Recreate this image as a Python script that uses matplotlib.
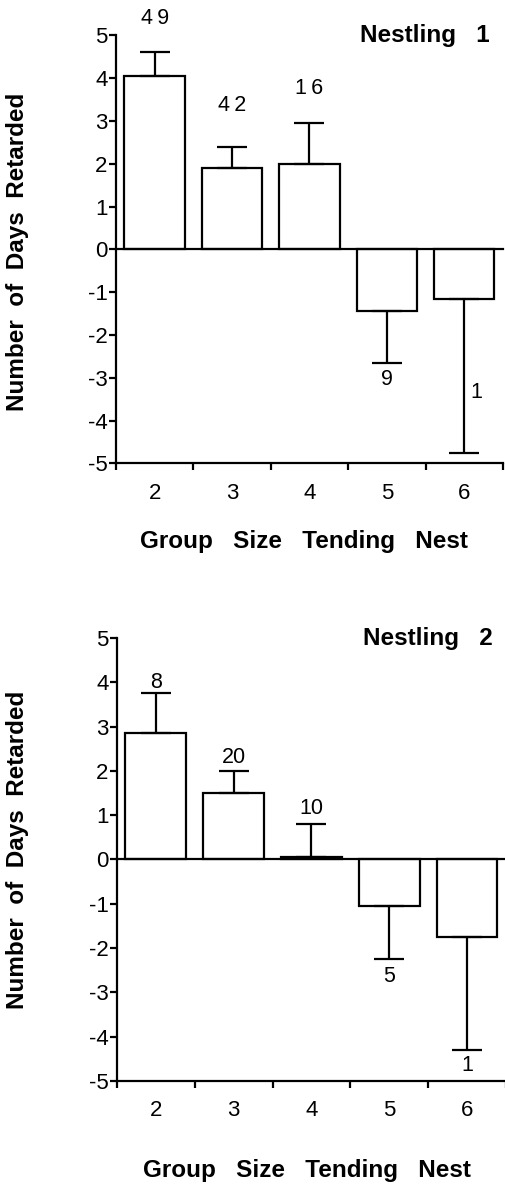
import matplotlib.pyplot as plt
import numpy as np

plt.rcParams['font.family'] = ['Liberation Sans', 'DejaVu Sans']
plt.rcParams['axes.unicode_minus'] = False

groups = [2, 3, 4, 5, 6]

# nestling 1
means1 = [4.05, 1.9, 2.0, -1.45, -1.15]
errs1 = [0.55, 0.5, 0.95, 1.2, 3.6]
n1 = ['4\u20099', '4\u20092', '1\u20096', '9', '1']
nlab_y1 = [5.4, 3.37, 3.75, -3.05, -3.35]
nlab_dx1 = [0, 0, 0, 0, 0.15]

# nestling 2
means2 = [2.85, 1.5, 0.05, -1.05, -1.75]
errs2 = [0.9, 0.5, 0.75, 1.2, 2.55]
n2 = ['8', '20', '10', '5', '1']
nlab_y2 = [4.0, 2.3, 1.15, -2.64, -4.65]
nlab_dx2 = [0, 0, 0, 0, 0]

lw = 1.6
fs_tick = 16
fs_n = 15.5
fs_lab = 17.5


def panel(ax, means, errs, ns, ylabs, dxs, title):
    x = np.array(groups)
    ax.bar(x, means, width=0.78, color='white', edgecolor='black', linewidth=lw, zorder=2)
    lo = [e if m < 0 else 0 for m, e in zip(means, errs)]
    hi = [e if m >= 0 else 0 for m, e in zip(means, errs)]
    ax.errorbar(x, means, yerr=[lo, hi], fmt='none', ecolor='black',
                elinewidth=lw, capsize=11, capthick=lw, zorder=3)
    ax.axhline(0, color='black', lw=lw, zorder=4, clip_on=False)
    for xi, s, yl, dx in zip(x, ns, ylabs, dxs):
        ax.text(xi + dx, yl, s, ha='center', va='center', fontsize=fs_n)
    ax.set_xlim(1.5, 6.5)
    ax.set_ylim(-5, 5)
    ax.set_yticks(np.arange(-5, 6, 1))
    ax.set_xticks(np.arange(1.5, 7, 1))
    ax.set_xticklabels([])
    ax.set_xticks(x, minor=True)
    ax.set_xticklabels([str(g) for g in groups], minor=True)
    ax.tick_params(axis='x', which='minor', length=0, pad=14, labelsize=fs_tick)
    ax.tick_params(axis='x', which='major', direction='out', length=5, width=lw)
    ax.tick_params(axis='y', direction='out', length=5, width=lw, labelsize=fs_tick, pad=1)
    for sp in ['top', 'right']:
        ax.spines[sp].set_visible(False)
    for sp in ['left', 'bottom']:
        ax.spines[sp].set_linewidth(lw)
    ax.text(0.965, 1.0, title, transform=ax.transAxes, ha='right', va='center',
            fontsize=fs_lab, fontweight='bold')


fig = plt.figure(figsize=(5.06, 11.85), dpi=100)
ax1 = fig.add_axes([0.229, 0.609, 0.765, 0.3612])
ax2 = fig.add_axes([0.231, 0.0878, 0.769, 0.3738])

panel(ax1, means1, errs1, n1, nlab_y1, nlab_dx1, 'Nestling   1')
panel(ax2, means2, errs2, n2, nlab_y2, nlab_dx2, 'Nestling   2')

fig.text(18 / 506, 1 - 252 / 1185, 'Number  of  Days  Retarded', rotation=90,
         ha='center', va='center', fontsize=fs_lab, fontweight='bold')
fig.text(304 / 506, 1 - 542 / 1185, 'Group   Size   Tending   Nest',
         ha='center', va='center', fontsize=fs_lab, fontweight='bold')
fig.text(18 / 506, 1 - 850 / 1185, 'Number  of  Days  Retarded', rotation=90,
         ha='center', va='center', fontsize=fs_lab, fontweight='bold')
fig.text(307 / 506, 1 - 1170 / 1185, 'Group   Size   Tending   Nest',
         ha='center', va='center', fontsize=fs_lab, fontweight='bold')

fig.savefig('out.png', dpi=100)
